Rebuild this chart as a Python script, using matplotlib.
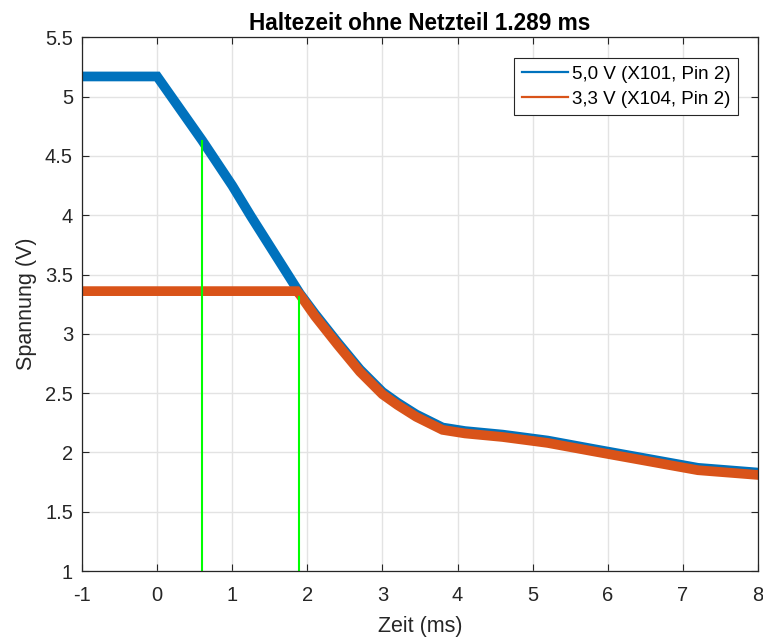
import matplotlib
matplotlib.use('Agg')
import matplotlib.pyplot as plt

plt.rcParams['font.family'] = ['Liberation Sans', 'DejaVu Sans']
plt.rcParams['axes.unicode_minus'] = False

# 5,0 V rail (X101, Pin 2)
t_5v = [-1.0, -0.5, 0.0, 0.2, 0.4, 0.6, 0.8, 1.0, 1.25, 1.5, 1.75, 1.9,
        2.1, 2.4, 2.7, 3.0, 3.2, 3.45, 3.8, 4.1, 4.6, 5.2, 5.8, 6.5, 7.2, 8.0]
v_5v = [5.17, 5.17, 5.17, 4.99, 4.81, 4.63, 4.44, 4.25, 3.99, 3.74, 3.49, 3.34,
        3.17, 2.93, 2.70, 2.51, 2.42, 2.32, 2.21, 2.18, 2.15, 2.10, 2.03, 1.95, 1.87, 1.83]

# 3,3 V rail (X104, Pin 2)
t_3v3 = [-1.0, 0.7, 1.86, 1.9, 2.1, 2.4, 2.7, 3.0, 3.2, 3.45, 3.8, 4.1,
         4.6, 5.2, 5.8, 6.5, 7.2, 8.0]
v_3v3 = [3.36, 3.36, 3.36, 3.33, 3.15, 2.91, 2.68, 2.49, 2.40, 2.30, 2.19, 2.16,
         2.13, 2.08, 2.01, 1.93, 1.85, 1.81]

# cursor markers: start of drop on 5 V and start of drop on 3,3 V
cursor_t = [0.6, 1.889]
cursor_v = [4.63, 3.31]

labels = ['5,0 V (X101, Pin 2)', '3,3 V (X104, Pin 2)']
title = 'Haltezeit ohne Netzteil 1.289 ms'

BLUE = '#0072BD'
ORANGE = '#D95319'
DARK = '#262626'

fig = plt.figure(figsize=(7.63, 6.37), dpi=100)
ax = fig.add_axes([0.1075, 0.1036, 0.8859, 0.8378])

ax.plot(t_5v, v_5v, color=BLUE, lw=7, solid_joinstyle='miter', label=labels[0])
ax.plot(t_3v3, v_3v3, color=ORANGE, lw=7, solid_joinstyle='miter', label=labels[1])
for t, v in zip(cursor_t, cursor_v):
    ax.plot([t, t], [1.0, v], color='#00FF00', lw=1.5)

ax.set_xlim(-1, 8)
ax.set_ylim(1, 5.5)
ax.set_xticks(range(-1, 9))
ax.set_yticks([1, 1.5, 2, 2.5, 3, 3.5, 4, 4.5, 5, 5.5])
ax.set_yticklabels(['1', '1.5', '2', '2.5', '3', '3.5', '4', '4.5', '5', '5.5'])

ax.grid(True, color='#E3E3E3', lw=1.0)
ax.set_axisbelow(True)
ax.tick_params(direction='in', length=5, width=0.8, colors=DARK,
               labelsize=14.5, top=True, right=True)
ax.tick_params(axis='x', pad=11)
ax.tick_params(axis='y', pad=6.5)
for s in ax.spines.values():
    s.set_color(DARK)
    s.set_linewidth(0.9)

ax.set_xlabel('Zeit (ms)', fontsize=15.5, color=DARK, labelpad=8)
ax.set_ylabel('Spannung (V)', fontsize=15.5, color=DARK, labelpad=6)
ax.set_title(title, fontsize=16.3, fontweight='bold', pad=5)

leg = ax.legend(loc='upper right', bbox_to_anchor=(0.970, 0.9607), borderaxespad=0,
                fancybox=False, framealpha=1, edgecolor=DARK, fontsize=13.5,
                handlelength=2.45, handletextpad=0.2, borderpad=0.4, labelspacing=0.4)
leg.get_frame().set_linewidth(0.8)
for line in leg.get_lines():
    line.set_linewidth(1.6)

fig.savefig('out.png', dpi=100)
